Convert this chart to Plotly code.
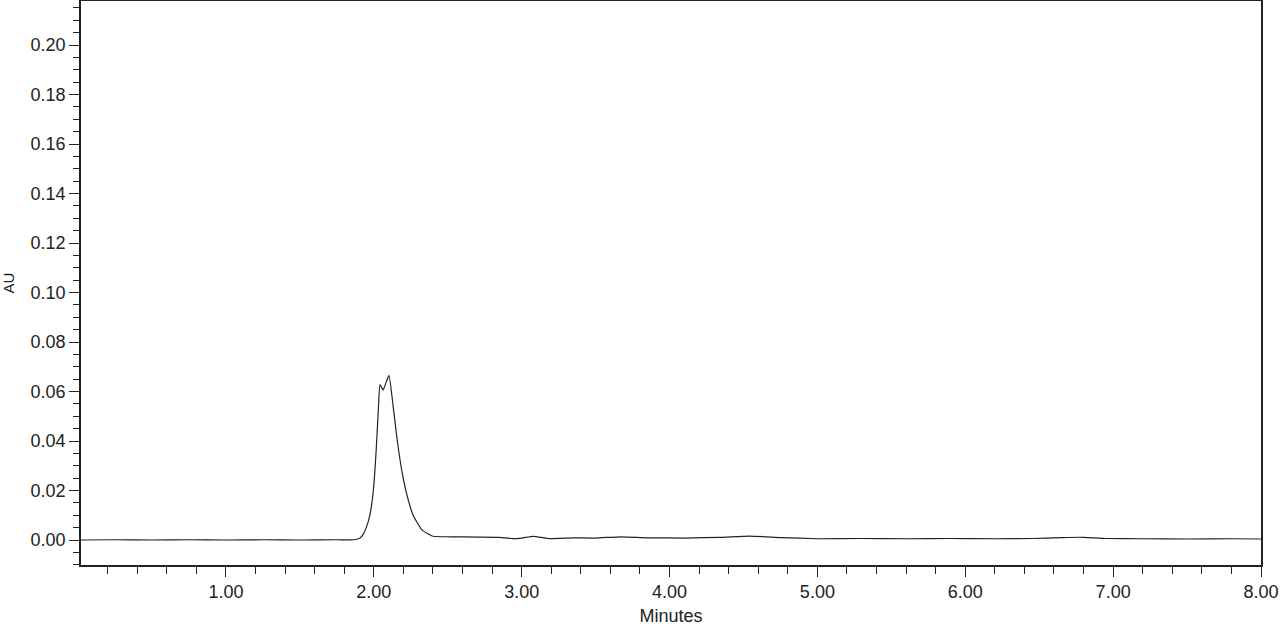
import plotly.graph_objects as go

# chromatogram trace (minutes, AU)
minutes = [
    0.02, 0.25, 0.50, 0.75, 1.00, 1.25, 1.50, 1.75, 1.87,
    1.907, 1.927, 1.952, 1.975, 1.997, 2.016, 2.031, 2.042,
    2.063, 2.085, 2.103, 2.130, 2.157, 2.191, 2.225, 2.266,
    2.327, 2.401, 2.516, 2.70, 2.85, 2.93, 3.00, 3.08, 3.18,
    3.35, 3.50, 3.67, 3.85, 4.10, 4.35, 4.54, 4.75, 5.00,
    5.30, 5.60, 5.90, 6.20, 6.45, 6.65, 6.80, 6.95, 7.20,
    7.50, 7.80, 8.00,
]
au = [
    0.0000, 0.0001, 0.0000, 0.0001, 0.0000, 0.0001, 0.0000, 0.0001, 0.0001,
    0.0008, 0.0022, 0.0055, 0.0105, 0.0200, 0.0360, 0.0530, 0.0628,
    0.0606, 0.0640, 0.0665, 0.0545, 0.0410, 0.0275, 0.0180, 0.0100,
    0.0040, 0.0015, 0.0013, 0.0012, 0.0011, 0.0006, 0.0008, 0.0015, 0.0006,
    0.0009, 0.0008, 0.0013, 0.0009, 0.0008, 0.0011, 0.0016, 0.0010, 0.0005,
    0.0006, 0.0005, 0.0006, 0.0005, 0.0006, 0.0010, 0.0011, 0.0006, 0.0005,
    0.0004, 0.0005, 0.0004,
]

x_ticks = [1, 2, 3, 4, 5, 6, 7, 8]
x_labels = ["1.00", "2.00", "3.00", "4.00", "5.00", "6.00", "7.00", "8.00"]
y_ticks = [0.00, 0.02, 0.04, 0.06, 0.08, 0.10, 0.12, 0.14, 0.16, 0.18, 0.20]
y_labels = ["0.00", "0.02", "0.04", "0.06", "0.08", "0.10",
            "0.12", "0.14", "0.16", "0.18", "0.20"]

fig = go.Figure()

fig.add_trace(go.Scatter(
    x=minutes,
    y=au,
    mode="lines",
    line=dict(color="#222222", width=1.2, shape="spline", smoothing=0.4),
    showlegend=False,
    hoverinfo="x+y",
))

ink = "#222222"
tick_font = dict(family="Liberation Sans, Arial, sans-serif", size=18, color=ink)
title_font_x = dict(family="Liberation Sans, Arial, sans-serif", size=18, color=ink)
title_font_y = dict(family="Liberation Sans, Arial, sans-serif", size=15, color=ink)

fig.update_layout(
    width=1280,
    height=626,
    margin=dict(l=81, r=19, t=1, b=61),
    paper_bgcolor="white",
    plot_bgcolor="white",
    font=tick_font,
    xaxis=dict(
        range=[0.02, 8.0],
        tickvals=x_ticks,
        ticktext=x_labels,
        ticks="outside",
        ticklen=10,
        tickwidth=1.3,
        tickcolor=ink,
        minor=dict(dtick=0.2, tick0=0, ticks="outside", ticklen=7,
                   tickwidth=1.3, tickcolor=ink),
        showline=True,
        linecolor=ink,
        linewidth=1.5,
        mirror=True,
        showgrid=False,
        zeroline=False,
        automargin=False,
        title=dict(text="Minutes", font=title_font_x, standoff=15),
        tickfont=tick_font,
    ),
    yaxis=dict(
        range=[-0.0101, 0.2178],
        tickvals=y_ticks,
        ticktext=y_labels,
        ticks="outside",
        ticklen=10,
        tickwidth=1.3,
        tickcolor=ink,
        minor=dict(dtick=0.005, tick0=0, ticks="outside", ticklen=6,
                   tickwidth=1.3, tickcolor=ink),
        showline=True,
        linecolor=ink,
        linewidth=1.5,
        mirror=True,
        showgrid=False,
        zeroline=False,
        automargin=False,
        title=dict(text="AU", font=title_font_y, standoff=13),
        tickfont=tick_font,
    ),
)

fig.write_html(
    "out.html",
    config={"displayModeBar": False},
    post_script="document.body.style.margin='0';document.body.style.overflow='hidden';",
)
